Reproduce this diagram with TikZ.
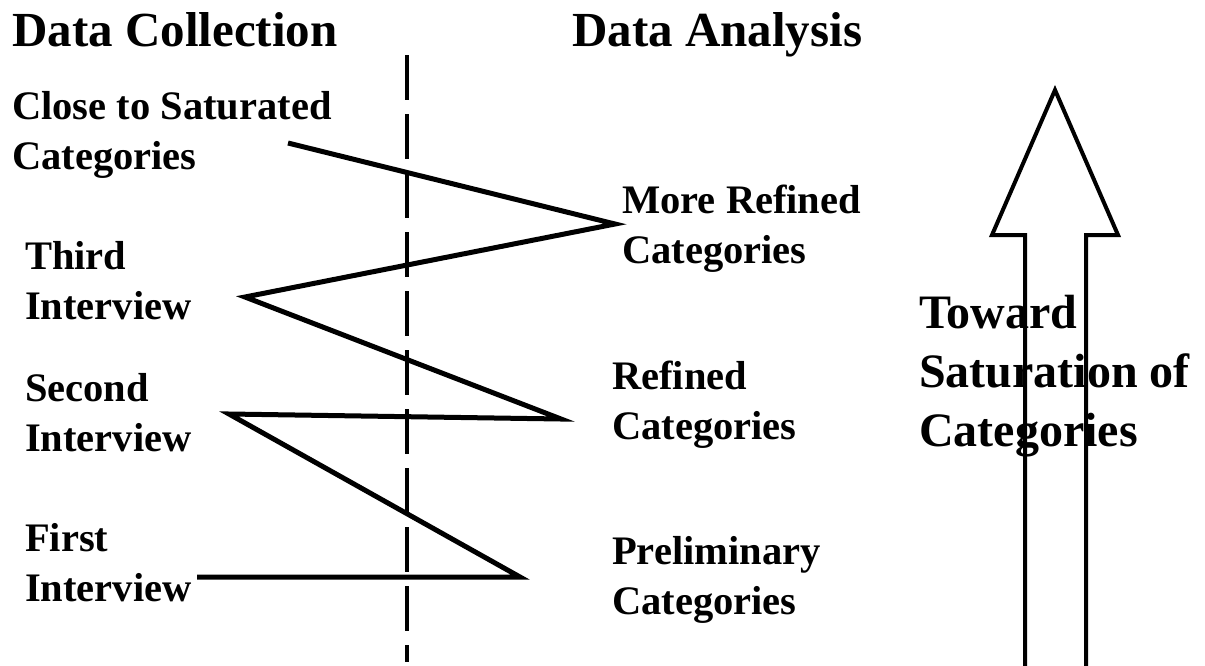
\documentclass[tikz,border=0pt]{standalone}
\usepackage{fontspec}
\setmainfont{Liberation Serif}
\begin{document}
\begin{tikzpicture}[x=1pt,y=-1pt,
  lbl/.style={anchor=north west,inner sep=0pt,align=left,font=\fontsize{40.5}{50}\selectfont\bfseries},
  head/.style={anchor=north west,inner sep=0pt,font=\fontsize{49}{60}\selectfont\bfseries},
  zig/.style={line width=5pt,line join=miter,line cap=butt},
  divider/.style={line width=3.2pt,dash pattern=on 45pt off 14pt},
  bigarrow/.style={line width=4pt,line join=miter}]
\useasboundingbox (0,0) rectangle (1205,665);
% headings
\node[head] (dc) at (12,12) {Data Collection};
\node[head] (da) at (572,12) {Data Analysis};
% left labels
\node[lbl] (close) at (12,91) {Close to Saturated\\Categories};
\node[lbl] (third) at (25,241) {Third\\Interview};
\node[lbl] (second) at (25,373) {Second\\Interview};
\node[lbl] (first) at (25,523) {First\\Interview};
% right labels
\node[lbl] (more) at (622,185) {More Refined\\Categories};
\node[lbl] (refined) at (612,361) {Refined\\Categories};
\node[lbl] (prelim) at (612,536) {Preliminary\\Categories};
% divider
\coordinate (dtop) at (407,55);
\coordinate (dbot) at (407,662);
\draw[divider] (dtop) -- (dbot);
% zigzag
\coordinate (z0) at (288,143);
\coordinate (z1) at (615,224);
\coordinate (z2) at (245,297);
\coordinate (z3) at (561,419);
\coordinate (z4) at (229,414);
\coordinate (z5) at (520,577);
\coordinate (z6) at (197,577);
\draw[zig] (z0) -- (z1) -- (z2) -- (z3) -- (z4) -- (z5) -- (z6);
% big arrow
\coordinate (a1) at (1025,668);
\coordinate (a2) at (1025,235);
\coordinate (a3) at (992,235);
\coordinate (tip) at (1055,90);
\coordinate (a5) at (1118,235);
\coordinate (a6) at (1086,235);
\coordinate (a7) at (1086,668);
\draw[bigarrow] (a1) -- (a2) -- (a3) -- (tip) -- (a5) -- (a6) -- (a7);
\node[lbl,font=\fontsize{48}{59}\selectfont\bfseries] (toward) at (919,295) {Toward\\Saturation of\\Categories};
\end{tikzpicture}
\end{document}
